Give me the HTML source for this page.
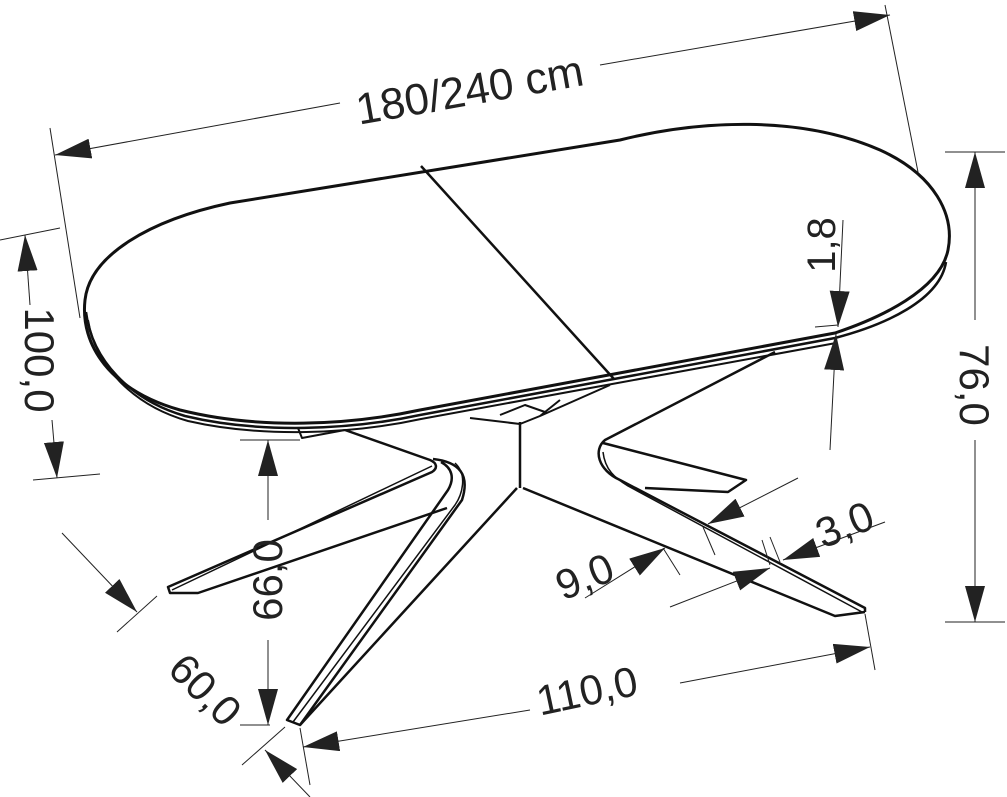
<!DOCTYPE html>
<html><head><meta charset="utf-8"><style>
html,body{margin:0;padding:0;background:#fff}
svg{display:block}
text{font-family:"Liberation Sans",sans-serif;fill:#222}
</style></head><body>
<svg width="1007" height="797" viewBox="0 0 1007 797" xmlns="http://www.w3.org/2000/svg">
<defs>
<marker id="a" viewBox="0 0 36 20" refX="36" refY="10" markerWidth="36" markerHeight="20" markerUnits="userSpaceOnUse" orient="auto-start-reverse"><path d="M0,0 L36,10 L0,20 Z" fill="#222"/></marker>
</defs>
<g fill="none" stroke="#111" stroke-linejoin="round">
<path d="M230,203 L620,140 C700,120 800,115 880,150 C935,175 955,215 948,250 C940,290 880,318 835,333 L420,410 C350,425 260,430 180,410 C110,390 80,345 85,300 C90,255 150,220 230,203 Z" stroke-width="3"/>
<path d="M86,312 C92,360 130,400 185,416 C260,434 350,430 420,415 L835,338 C885,325 940,300 946,262" stroke-width="2.5"/>
<path d="M88,320 C96,368 135,406 188,421 C262,438 352,434 421,419 L836,343" stroke-width="2"/>
<line x1="421" y1="166" x2="614" y2="379" stroke-width="2.5"/>
<path d="M298,428 L302,438 L345,430 M470,418 L520,424 L540,416 L560,400 M500,415 L525,405 L545,412 M540,416 L610,385" stroke-width="2"/>
<line x1="520" y1="422" x2="520" y2="488" stroke-width="2.5"/>
<path d="M345,430 L430,460 C437,463 438,468 432,472 L168,587 L170,593 L198,593 L447,508" stroke-width="2.5"/>
<path d="M432,466 L172,590" stroke-width="1.5"/>
<path d="M433,459 C460,462 470,475 462,500 L300,725 L287,720 L448,490 C455,478 452,468 441,462" stroke-width="2.5"/>
<path d="M455,463 C468,475 462,495 455,505 L293,722" stroke-width="1.5"/>
<path d="M517,488 L300,725 M523,488 L835,616 L865,612" stroke-width="2.5"/>
<path d="M775,352 L605,440 C593,450 598,470 620,480 L865,608 L865,612" stroke-width="2.5"/>
<path d="M603,452 C605,470 615,478 628,486 L862,612" stroke-width="1.5"/>
<path d="M603,443 L746,480 L728,492 L645,488" stroke-width="2.5"/>
</g>
<g stroke="#222" stroke-width="1" fill="none">
<line x1="50" y1="128" x2="80" y2="318"/>
<line x1="885" y1="5" x2="918" y2="172"/>
<line x1="55" y1="155" x2="340" y2="103" marker-start="url(#a)"/>
<line x1="600" y1="65" x2="890" y2="15" marker-end="url(#a)"/>
<line x1="0" y1="240" x2="60" y2="228"/>
<line x1="33" y1="480" x2="100" y2="474"/>
<line x1="25" y1="235" x2="30" y2="305" marker-start="url(#a)"/>
<line x1="52" y1="420" x2="57" y2="478" marker-end="url(#a)"/>
<line x1="945" y1="152" x2="1005" y2="152"/>
<line x1="945" y1="622" x2="1005" y2="622"/>
<line x1="975" y1="152" x2="975" y2="320" marker-start="url(#a)"/>
<line x1="975" y1="440" x2="975" y2="622" marker-end="url(#a)"/>
<line x1="843" y1="220" x2="838" y2="327" marker-end="url(#a)"/>
<line x1="815" y1="327" x2="838" y2="325"/>
<line x1="830" y1="450" x2="836" y2="334" marker-end="url(#a)"/>
<line x1="240" y1="440" x2="300" y2="440"/>
<line x1="268" y1="520" x2="268" y2="440" marker-end="url(#a)"/>
<line x1="268" y1="640" x2="268" y2="725" marker-end="url(#a)"/>
<line x1="240" y1="725" x2="270" y2="725"/>
<line x1="62" y1="533" x2="137" y2="612" marker-end="url(#a)"/>
<line x1="117" y1="632" x2="157" y2="596"/>
<line x1="242" y1="765" x2="285" y2="727"/>
<line x1="310" y1="797" x2="265" y2="750" marker-end="url(#a)"/>
<line x1="300" y1="728" x2="310" y2="785"/>
<line x1="865" y1="614" x2="875" y2="670"/>
<line x1="530" y1="710" x2="303" y2="747" marker-end="url(#a)"/>
<line x1="680" y1="683" x2="870" y2="647" marker-end="url(#a)"/>
<line x1="585" y1="598" x2="665" y2="548" marker-end="url(#a)"/>
<line x1="663" y1="548" x2="680" y2="575"/>
<line x1="670" y1="607" x2="770" y2="568" marker-end="url(#a)"/>
<line x1="798" y1="478" x2="708" y2="524" marker-end="url(#a)"/>
<line x1="703" y1="527" x2="715" y2="555"/>
<line x1="762" y1="540" x2="770" y2="565"/>
<line x1="770" y1="537" x2="780" y2="562"/>
<line x1="885" y1="522" x2="783" y2="560" marker-end="url(#a)"/>
</g>
<text x="470" y="105" font-size="44" text-anchor="middle" transform="rotate(-10 470 92)">180/240 cm</text>
<text x="0" y="0" font-size="42" text-anchor="middle" transform="translate(25,360) rotate(90)">100,0</text>
<text x="0" y="0" font-size="42" text-anchor="middle" transform="translate(960,385) rotate(90)">76,0</text>
<text x="0" y="0" font-size="40" text-anchor="middle" transform="translate(835,245) rotate(-90)">1,8</text>
<text x="0" y="0" font-size="42" text-anchor="middle" transform="translate(282,580) rotate(-90)">66,0</text>
<text x="0" y="0" font-size="42" text-anchor="middle" transform="translate(195,700) rotate(45)">60,0</text>
<text x="0" y="0" font-size="42" text-anchor="middle" transform="translate(590,705) rotate(-12)">110,0</text>
<text x="0" y="0" font-size="42" text-anchor="middle" transform="translate(590,590) rotate(-22)">9,0</text>
<text x="0" y="0" font-size="42" text-anchor="middle" transform="translate(850,538) rotate(-22)">3,0</text>
</svg>
</body></html>
